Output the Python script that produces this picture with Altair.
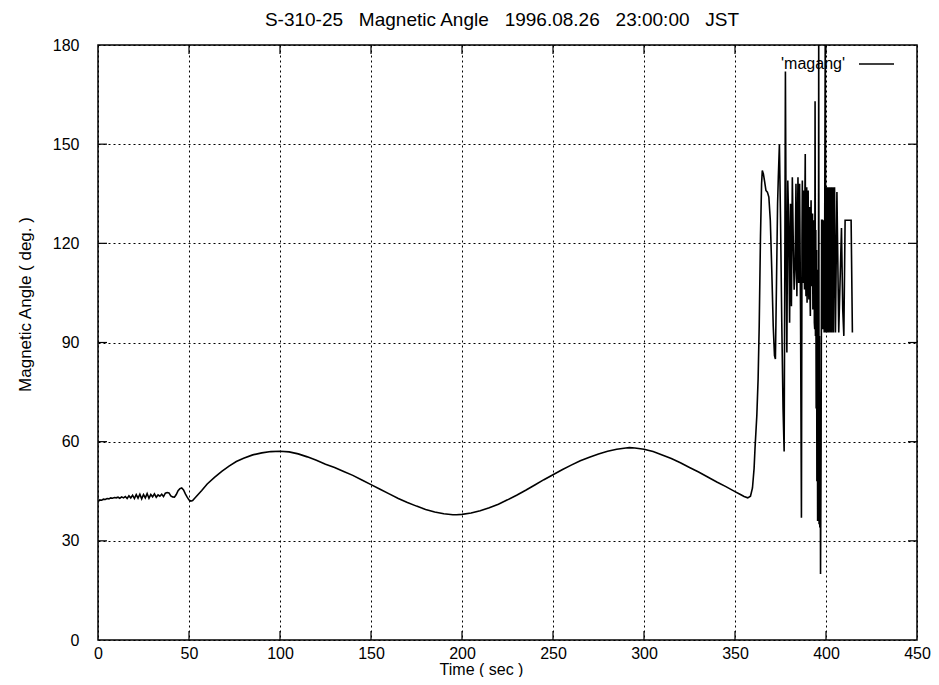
import altair as alt
import pandas as pd

# ---------------- data ----------------
t_smooth = [0, 1, 2, 3, 4, 5, 6, 7, 8, 9, 10, 11, 12, 13, 14, 15, 16, 17, 18, 19,
            20, 21, 22, 23, 24, 25, 26, 27, 28, 29, 30, 31, 32, 33, 34, 35, 36, 37, 38, 39,
            40, 41, 42, 43, 44, 45, 46, 47, 48, 49, 50, 51, 52, 53, 55, 57, 60, 64, 68, 72,
            76, 80, 85, 90, 95, 100, 105, 110, 115, 120, 125, 130, 135, 140, 145, 150, 155, 160,
            165, 170, 175, 180, 185, 190, 195, 197, 200, 205, 210, 215, 220, 225, 230, 235,
            240, 245, 250, 255, 260, 265, 270, 275, 280, 285, 290, 292, 295, 300, 305, 310,
            315, 320, 325, 330, 335, 340, 345, 350, 353, 355, 357, 358.5, 359.6, 360.5, 361,
            362, 362.7, 363.3, 364, 364.6, 365]
v_smooth = [41.8, 42.4, 42.3, 42.6, 42.5, 42.8, 42.7, 43.0, 42.9, 43.1, 43.0, 43.2, 42.9, 43.3,
            43.0, 43.4, 42.8, 43.6, 43.0, 43.8, 42.8, 44.0, 42.9, 44.1, 42.7, 44.0, 43.0, 44.3,
            42.9, 44.0, 43.3, 44.2, 43.2, 43.9, 43.5, 44.1, 43.4, 44.4, 44.6, 44.5, 43.6, 43.3,
            43.2, 44.0, 45.2, 45.8, 46.0, 45.4, 44.2, 43.2, 42.4, 42.0, 42.2, 42.8, 44.0, 45.2,
            47.2, 49.2, 51.0, 52.6, 54.0, 55.0, 56.0, 56.6, 57.0, 57.1, 56.9, 56.3, 55.4, 54.4,
            53.2, 52.2, 51.0, 49.8, 48.4, 47.0, 45.6, 44.2, 42.8, 41.6, 40.5, 39.5, 38.7, 38.2,
            37.9, 37.9, 38.0, 38.4, 39.1, 40.0, 41.1, 42.4, 43.8, 45.3, 46.9, 48.5, 50.0, 51.5,
            52.9, 54.2, 55.3, 56.3, 57.1, 57.7, 58.1, 58.2, 58.1, 57.7, 57.0, 56.0, 54.9, 53.6,
            52.2, 50.8, 49.3, 47.8, 46.4, 44.9, 44.0, 43.4, 43.0, 43.5, 46.0, 52.0, 58.0, 68.0,
            79.0, 95.0, 122.0, 138.0, 142.0]

t_burst = [365.6, 366.2, 367.0, 367.8, 368.6, 369.4, 370.2, 371.0, 371.7, 372.2, 372.8, 373.4,
           373.8, 374.4, 375.0, 375.7, 376.4, 377.0, 377.4, 377.7, 378.1, 378.5, 379.0, 379.5,
           380.0, 380.5, 381.0, 381.5, 382.0, 382.5, 383.0, 383.5, 384.0, 384.6, 385.0, 385.5,
           386.0, 386.5, 386.8, 387.0, 387.2, 387.4, 387.6, 387.8, 388.0, 388.2, 388.4, 388.6,
           388.8, 389.0, 389.2, 389.4, 389.6, 389.8, 390.0, 390.2, 390.4, 390.6, 390.8, 391.0,
           391.2, 391.4, 391.6, 391.8, 392.0, 392.2, 392.4, 392.6, 392.8, 393.0, 393.2, 393.4,
           393.6, 393.8, 394.0, 394.2, 394.4, 394.6, 394.8, 395.0, 395.2, 395.4, 395.6, 395.8,
           396.0, 396.2, 396.4, 396.6, 396.8, 397.0, 397.3, 397.6, 398.0, 398.3, 398.6, 399.0,
           399.3, 399.6, 399.9, 400.2, 400.5, 400.8, 401.1, 401.4, 401.7, 402.0, 402.3, 402.6,
           402.9, 403.2, 403.5, 403.8, 404.1, 404.4, 404.7, 405.2, 406.0, 407.0, 407.8, 408.5,
           409.2, 409.8, 410.5, 411.2, 413.8, 414.5]
v_burst = [141, 139, 136, 135.5, 134, 127, 112, 95, 86, 85, 108, 132,
           140, 150, 128, 96, 70, 57, 118, 172, 120, 87, 139, 126,
           96, 132, 101, 140, 121, 106, 112, 138, 104, 140, 108, 138,
           100, 37, 120, 139, 112, 130, 108, 136, 115, 106, 133, 147,
           112, 104, 128, 137, 102, 110, 130, 136, 108, 103, 126, 131,
           105, 98, 122, 133, 112, 107, 125, 129, 100, 101, 122, 127,
           96, 94, 163, 92, 124, 70, 118, 48, 112, 36, 104, 40,
           186, 35, 92, 34, 75, 20, 58, 127, 127, 94, 127, 93,
           127, 186, 93, 127, 137, 93, 137, 93, 127, 137, 93, 127,
           137, 93, 127, 137, 93, 127, 137, 93, 135.5, 93, 110, 124.6,
           100, 92, 127, 127, 127, 93]

x_ticks = [0, 50, 100, 150, 200, 250, 300, 350, 400, 450]
y_ticks = [0, 30, 60, 90, 120, 150, 180]
legend_label = ["'magang'"]
title_text = ["S-310-25\u00a0\u00a0\u00a0Magnetic Angle\u00a0\u00a0\u00a01996.08.26\u00a0\u00a0\u00a023:00:00\u00a0\u00a0\u00a0JST"]
x_title = "Time ( sec )"
y_title = "Magnetic Angle ( deg. )"

# ---------------- chart ----------------
W, H = 819, 595
TICK = 9
sans = "Liberation Sans, Arial, sans-serif"

df = pd.DataFrame({"t": t_smooth + t_burst, "v": v_smooth + v_burst})
df["order"] = range(len(df))

x_enc = alt.X("t:Q", scale=alt.Scale(domain=[0, 450], nice=False, zero=False),
              axis=alt.Axis(values=x_ticks, title=x_title, grid=True, gridDash=[2, 3],
                            gridColor="black", gridWidth=1, ticks=False, domain=False,
                            labelFont=sans, labelFontSize=16, labelColor="black",
                            labelPadding=5, labelFlush=False,
                            titleFont=sans, titleFontSize=16, titleFontWeight="normal",
                            titleColor="black", titleX=383, titleY=29,
                            titleBaseline="middle", titleAlign="center"))
y_enc = alt.Y("v:Q", scale=alt.Scale(domain=[0, 180], nice=False, zero=False),
              axis=alt.Axis(values=y_ticks, title=y_title, grid=True, gridDash=[2, 3],
                            gridColor="black", gridWidth=1, ticks=False, domain=False,
                            labelFont=sans, labelFontSize=16, labelColor="black",
                            labelPadding=19,
                            titleFont=sans, titleFontSize=17, titleFontWeight="normal",
                            titleColor="black", titleX=-73, titleY=259,
                            titleBaseline="middle", titleAlign="center"))

line = alt.Chart(df).mark_line(color="black", strokeWidth=1.6, clip=True).encode(
    x=x_enc, y=y_enc, order="order:Q")

xt = pd.DataFrame({"t": x_ticks[1:-1]})
yt = pd.DataFrame({"v": y_ticks[1:-1]})
xt_bottom = alt.Chart(xt).mark_rule(color="black", strokeWidth=1.2).encode(
    x=x_enc, y=alt.value(H), y2=alt.value(H - TICK))
xt_top = alt.Chart(xt).mark_rule(color="black", strokeWidth=1.2).encode(
    x=x_enc, y=alt.value(0), y2=alt.value(TICK))
yt_left = alt.Chart(yt).mark_rule(color="black", strokeWidth=1.2).encode(
    y=y_enc, x=alt.value(0), x2=alt.value(TICK))
yt_right = alt.Chart(yt).mark_rule(color="black", strokeWidth=1.2).encode(
    y=y_enc, x=alt.value(W), x2=alt.value(W - TICK))

leg_df = pd.DataFrame({"label": legend_label})
leg_text = alt.Chart(leg_df).mark_text(align="right", baseline="middle", font=sans,
                                       fontSize=16, color="black").encode(
    x=alt.value(747), y=alt.value(19), text="label:N")
leg_line = alt.Chart(leg_df).mark_rule(color="black", strokeWidth=1.3).encode(
    x=alt.value(761), x2=alt.value(796), y=alt.value(19))

ttl_df = pd.DataFrame({"title": title_text})
ttl = alt.Chart(ttl_df).mark_text(align="center", baseline="alphabetic", font=sans,
                                  fontSize=19, color="black").encode(
    x=alt.value(404), y=alt.value(-19), text="title:N")

chart = alt.layer(line, xt_bottom, xt_top, yt_left, yt_right, leg_text, leg_line, ttl).properties(
    width=W, height=H,
    padding={"left": 90, "top": 37, "right": 14, "bottom": 37},
    autosize=alt.AutoSizeParams(type="none"),
    background="white",
).configure_view(stroke="black", strokeWidth=1.5)

chart.save("out.html", embed_options={"renderer": "svg", "actions": False})
